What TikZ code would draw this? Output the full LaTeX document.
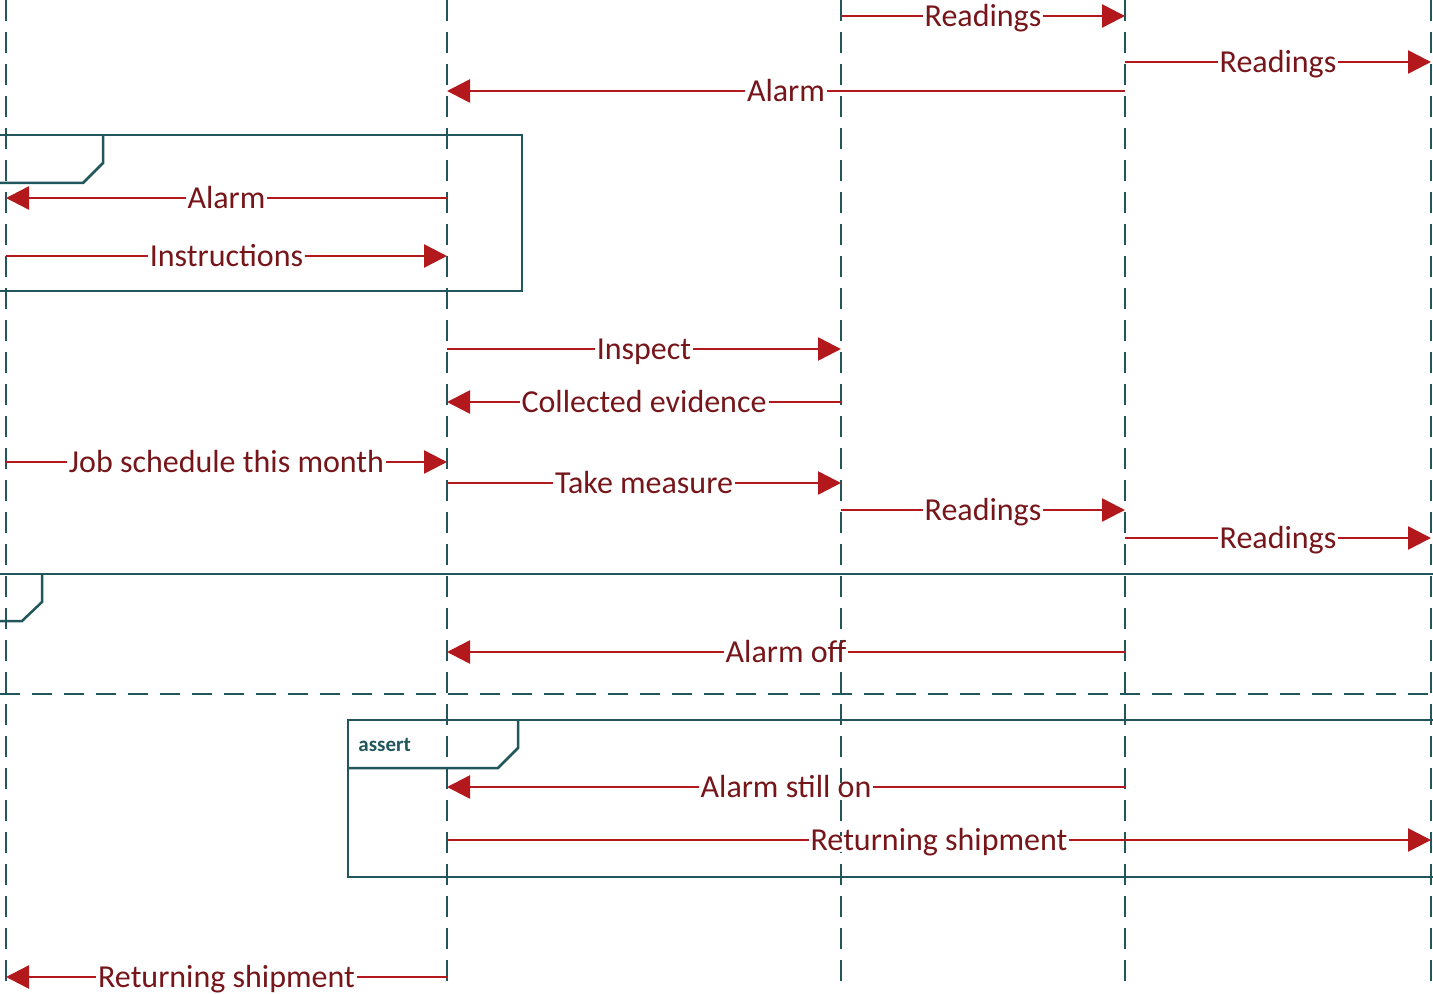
\documentclass[tikz,border=0pt]{standalone}
\usepackage{fontspec}
\setmainfont{Carlito}
\usetikzlibrary{arrows.meta}
\definecolor{msgred}{RGB}{178, 24, 28}
\definecolor{txtred}{RGB}{118, 22, 26}
\definecolor{lifeteal}{RGB}{33, 87, 92}

\tikzset{
  life/.style={lifeteal, line width=1.25pt, dash pattern=on 10.5pt off 5.5pt},
  frame/.style={lifeteal, line width=1.25pt},
  msg/.style={msgred, line width=1.25pt, -{Triangle[length=11.5pt,width=11.5pt]}},
  lbl/.style={fill=white, text=txtred, inner xsep=1pt, inner ysep=1pt, yshift=-2pt,
              text height=0.64em, text depth=0pt, font=\fontsize{16}{18}\selectfont}
}

\begin{document}
\begin{tikzpicture}[x=0.5pt, y=-0.5pt]
    \useasboundingbox (0,0) rectangle (1433,994);

    % lifelines
    \coordinate (A) at (6,0);    \coordinate (A') at (6,990);
    \coordinate (B) at (447,0);  \coordinate (B') at (447,982);
    \coordinate (C) at (841,0);  \coordinate (C') at (841,984);
    \coordinate (D) at (1125,0); \coordinate (D') at (1125,984);
    \coordinate (E) at (1431,0); \coordinate (E') at (1431,982);
    \draw[life] (A) -- (A');
    \draw[life] (B) -- (B');
    \draw[life] (C) -- (C');
    \draw[life] (D) -- (D');
    \draw[life] (E) -- (E');

    % fragments
    \draw[frame] (-10,135) rectangle (522,291);
    \draw[frame] (-10,183) -- (83,183) -- (103,163) -- (103,135);
    \draw[frame] (-10,574) -- (1443,574);
    \draw[frame] (-10,621) -- (22,621) -- (42,602) -- (42,574);
    \draw[frame, dash pattern=on 10pt off 6pt] (0,694) -- (1433,694);
    \draw[frame] (348,720) rectangle (1443,877);
    \draw[frame] (348,768) -- (498,768) -- (518,748) -- (518,720);
    \node[anchor=west, text=lifeteal, inner sep=0pt, font=\fontsize{10.5}{12}\selectfont\bfseries] (assertlbl) at (358,745) {assert};

    % messages
    \coordinate (s1) at (841,16);   \coordinate (e1) at (1125,16);
    \coordinate (s2) at (1125,62);  \coordinate (e2) at (1431,62);
    \coordinate (s3) at (1125,91);  \coordinate (e3) at (447,91);
    \coordinate (s4) at (447,198);  \coordinate (e4) at (6,198);
    \coordinate (s5) at (6,256);    \coordinate (e5) at (447,256);
    \coordinate (s6) at (447,349);  \coordinate (e6) at (841,349);
    \coordinate (s7) at (841,402);  \coordinate (e7) at (447,402);
    \coordinate (s8) at (6,462);    \coordinate (e8) at (447,462);
    \coordinate (s9) at (447,483);  \coordinate (e9) at (841,483);
    \coordinate (s10) at (841,510); \coordinate (e10) at (1125,510);
    \coordinate (s11) at (1125,538); \coordinate (e11) at (1431,538);
    \coordinate (s12) at (1125,652); \coordinate (e12) at (447,652);
    \coordinate (s13) at (1125,787); \coordinate (e13) at (447,787);
    \coordinate (s14) at (447,840);  \coordinate (e14) at (1431,840);
    \coordinate (s15) at (447,977);  \coordinate (e15) at (6,977);

    \draw[msg] (s1) -- node[lbl] (t1) {Readings} (e1);
    \draw[msg] (s2) -- node[lbl] (t2) {Readings} (e2);
    \draw[msg] (s3) -- node[lbl] (t3) {Alarm} (e3);
    \draw[msg] (s4) -- node[lbl] (t4) {Alarm} (e4);
    \draw[msg] (s5) -- node[lbl] (t5) {Instructions} (e5);
    \draw[msg] (s6) -- node[lbl] (t6) {Inspect} (e6);
    \draw[msg] (s7) -- node[lbl] (t7) {Collected evidence} (e7);
    \draw[msg] (s8) -- node[lbl] (t8) {Job schedule this month} (e8);
    \draw[msg] (s9) -- node[lbl] (t9) {Take measure} (e9);
    \draw[msg] (s10) -- node[lbl] (t10) {Readings} (e10);
    \draw[msg] (s11) -- node[lbl] (t11) {Readings} (e11);
    \draw[msg] (s12) -- node[lbl] (t12) {Alarm off} (e12);
    \draw[msg] (s13) -- node[lbl] (t13) {Alarm still on} (e13);
    \draw[msg] (s14) -- node[lbl] (t14) {Returning shipment} (e14);
    \draw[msg] (s15) -- node[lbl] (t15) {Returning shipment} (e15);
\end{tikzpicture}
\end{document}
